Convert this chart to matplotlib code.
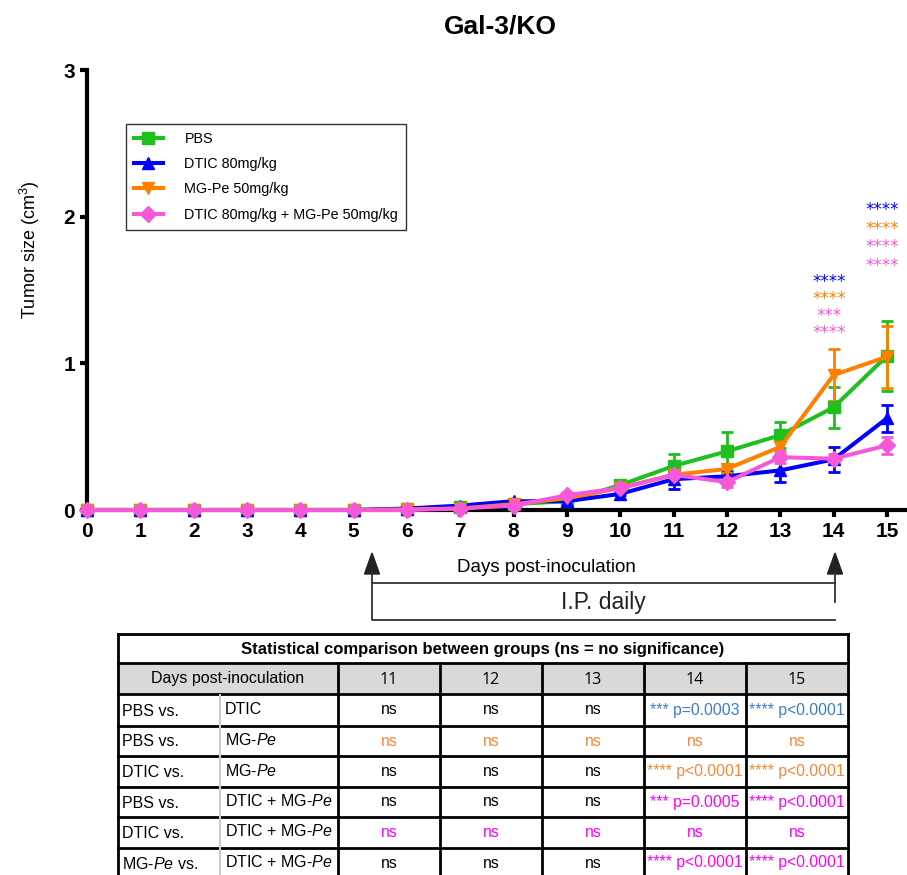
import numpy as np
import matplotlib
matplotlib.use('Agg')
import matplotlib.pyplot as plt
from matplotlib.lines import Line2D
from matplotlib.patches import Polygon, Rectangle

plt.rcParams['font.family'] = ['Liberation Sans', 'DejaVu Sans']
plt.rcParams['mathtext.fontset'] = 'custom'
plt.rcParams['mathtext.rm'] = 'Liberation Sans'
plt.rcParams['mathtext.it'] = 'Liberation Sans:italic'

# ---- data (tumor size, cm^3) ----
days = list(range(16))
pbs = [0, 0, 0, 0, 0, 0, 0.005, 0.02, 0.04, 0.06, 0.17, 0.30, 0.40, 0.51, 0.70, 1.05]
pbs_err = [0, 0, 0, 0, 0, 0, 0, 0, 0, 0, 0.02, 0.08, 0.13, 0.09, 0.14, 0.24]
dtic = [0, 0, 0, 0, 0, 0, 0.01, 0.03, 0.06, 0.06, 0.11, 0.21, 0.23, 0.27, 0.345, 0.625]
dtic_err = [0, 0, 0, 0, 0, 0, 0, 0, 0, 0, 0.01, 0.07, 0.03, 0.08, 0.085, 0.09]
mgpe = [0, 0, 0, 0, 0, 0, 0.005, 0.01, 0.04, 0.08, 0.15, 0.24, 0.28, 0.43, 0.92, 1.045]
mgpe_err = [0, 0, 0, 0, 0, 0, 0, 0, 0, 0, 0.01, 0.03, 0.03, 0.05, 0.175, 0.21]
combo = [0, 0, 0, 0, 0, 0, 0, 0.01, 0.03, 0.10, 0.15, 0.24, 0.19, 0.36, 0.35, 0.44]
combo_err = [0, 0, 0, 0, 0, 0, 0, 0, 0, 0, 0.01, 0.03, 0.03, 0.04, 0.03, 0.06]

series_labels = ['PBS', 'DTIC 80mg/kg', 'MG-Pe 50mg/kg', 'DTIC 80mg/kg + MG-Pe 50mg/kg']
series_colors = ['#1fbf1f', '#0000ff', '#ff8000', '#f758d8']
series_markers = ['s', '^', 'v', 'D']

# significance stars above the points (day, text, colour index, height)
star_days = [14, 14, 14, 14, 15, 15, 15, 15]
star_text = ['****', '****', '***', '****', '****', '****', '****', '****']
star_color = [1, 2, 3, 3, 1, 2, 3, 3]
star_y = [1.555, 1.439, 1.323, 1.207, 2.045, 1.916, 1.793, 1.664]

# table
tbl_days = ['11', '12', '13', '14', '15']
row_left = ['PBS vs.', 'PBS vs.', 'DTIC vs.', 'PBS vs.', 'DTIC vs.', r'MG-$\it{Pe}$ vs.']
row_right = ['DTIC', r'MG-$\it{Pe}$', r'MG-$\it{Pe}$', r'DTIC + MG-$\it{Pe}$',
             r'DTIC + MG-$\it{Pe}$', r'DTIC + MG-$\it{Pe}$']
row_cells = [
    ['ns', 'ns', 'ns', '*** p=0.0003', '**** p<0.0001'],
    ['ns', 'ns', 'ns', 'ns', 'ns'],
    ['ns', 'ns', 'ns', '**** p<0.0001', '**** p<0.0001'],
    ['ns', 'ns', 'ns', '*** p=0.0005', '**** p<0.0001'],
    ['ns', 'ns', 'ns', 'ns', 'ns'],
    ['ns', 'ns', 'ns', '**** p<0.0001', '**** p<0.0001'],
]
row_colors = [
    ['k', 'k', 'k', '#3d7cc9', '#3d7cc9'],
    ['#f0883a'] * 5,
    ['k', 'k', 'k', '#f0883a', '#f0883a'],
    ['k', 'k', 'k', '#ff00ff', '#ff00ff'],
    ['#ff00ff'] * 5,
    ['k', 'k', 'k', '#ff00ff', '#ff00ff'],
]

W, H = 907, 875
fig = plt.figure(figsize=(W / 100, H / 100), dpi=100)
ax = fig.add_axes([87 / W, 1 - 510 / H, (905 - 87) / W, (510 - 70) / H])

all_y = [pbs, dtic, mgpe, combo]
all_err = [pbs_err, dtic_err, mgpe_err, combo_err]
handles = []
for y, e, c, m, lab in zip(all_y, all_err, series_colors, series_markers, series_labels):
    ax.errorbar(days, y, yerr=e, color=c, lw=2.9, marker=m, ms=8.5, mec=c,
                capsize=4.5, capthick=2, elinewidth=2, clip_on=False, zorder=3)
    handles.append(Line2D([], [], color=c, lw=2.9, marker=m, ms=8, label=lab))

for d, t, ci, yy in zip(star_days, star_text, star_color, star_y):
    ax.text(d - 0.08, yy, t, color=series_colors[ci], ha='center', va='center',
            fontsize=12, family='DejaVu Sans')

ax.set_xlim(0, 15.34)
ax.set_ylim(0, 3)
ax.set_xticks(days)
ax.set_yticks([0, 1, 2, 3])
ax.spines['top'].set_visible(False)
ax.spines['right'].set_visible(False)
for s in ['left', 'bottom']:
    ax.spines[s].set_linewidth(3)
ax.tick_params(width=3, length=5, labelsize=15)
for lbl in ax.get_xticklabels() + ax.get_yticklabels():
    lbl.set_fontweight('bold')
ax.set_ylabel('Tumor size (cm$^3$)', fontsize=13)
ax.yaxis.set_label_coords((42 - 87) / (905 - 87), (510 - 250) / (510 - 70))

leg = ax.legend(handles=handles, loc='upper left', bbox_to_anchor=(126 / W, 1 - 124 / H),
                bbox_transform=fig.transFigure, fontsize=10.4, frameon=True, fancybox=False,
                edgecolor='k', labelspacing=0.78, handlelength=2.0, handletextpad=1.5,
                borderpad=0.55, borderaxespad=0)
leg.get_frame().set_linewidth(1.0)

fig.text(500 / W, 1 - 27 / H, 'Gal-3/KO', ha='center', va='center', fontsize=19, fontweight='bold')

# ---- overlay in pixel coordinates ----
ov = fig.add_axes([0, 0, 1, 1])
ov.set_xlim(0, W)
ov.set_ylim(H, 0)
ov.axis('off')

ov.text(546, 568, 'Days post-inoculation', ha='center', va='center', fontsize=13.5)
lc = '#333333'
ov.plot([372, 372, 835], [572, 620, 620], color=lc, lw=1.3)
ov.plot([372, 835], [583, 583], color=lc, lw=1.3)
ov.plot([835, 835], [572, 602], color=lc, lw=1.3)
for ax_x in [372, 835]:
    ov.add_patch(Polygon([[ax_x - 7.5, 574], [ax_x + 7.5, 574], [ax_x, 553]], closed=True, color='#222222'))
ov.text(603, 602, 'I.P. daily', ha='center', va='center', fontsize=16.5, color='#222222')

# table geometry
col_x = [118, 220, 338, 440, 542, 644, 746, 848]
row_y = [634, 663, 694, 726, 756, 787, 817, 848, 878]

ov.add_patch(Rectangle((col_x[0], row_y[1]), col_x[-1] - col_x[0], row_y[2] - row_y[1],
                       facecolor='#d9d9d9', edgecolor='none'))
for yy in row_y[:-1]:
    ov.plot([col_x[0], col_x[-1]], [yy, yy], color='k', lw=2, solid_capstyle='projecting')
ov.plot([col_x[0], col_x[0]], [row_y[0], H], color='k', lw=2)
ov.plot([col_x[-1], col_x[-1]], [row_y[0], H], color='k', lw=2)
for xx in col_x[2:-1]:
    ov.plot([xx, xx], [row_y[1], H], color='k', lw=2)
ov.plot([col_x[1], col_x[1]], [row_y[2] + 1, H], color='#cccccc', lw=1.5)

ov.text((col_x[0] + col_x[-1]) / 2, (row_y[0] + row_y[1]) / 2 + 1,
        'Statistical comparison between groups (ns = no significance)',
        ha='center', va='center', fontsize=12, fontweight='bold')
ov.text((col_x[0] + col_x[2]) / 2, (row_y[1] + row_y[2]) / 2, 'Days post-inoculation',
        ha='center', va='center', fontsize=11.5)
for j, d in enumerate(tbl_days):
    ov.text((col_x[j + 2] + col_x[j + 3]) / 2, (row_y[1] + row_y[2]) / 2 + 2, d,
            ha='center', va='center', fontsize=11.5, family='Open Sans')

for i in range(len(row_left)):
    yc = (row_y[i + 2] + row_y[i + 3]) / 2
    ov.text(col_x[0] + 4, yc + 1, row_left[i], ha='left', va='center', fontsize=11.5)
    ov.text(col_x[1] + 5, yc - 1, row_right[i], ha='left', va='center', fontsize=11.5)
    for j in range(5):
        ov.text((col_x[j + 2] + col_x[j + 3]) / 2, yc, row_cells[i][j], ha='center',
                va='center', fontsize=11.3, color=row_colors[i][j])

fig.savefig('out.png', dpi=100)
